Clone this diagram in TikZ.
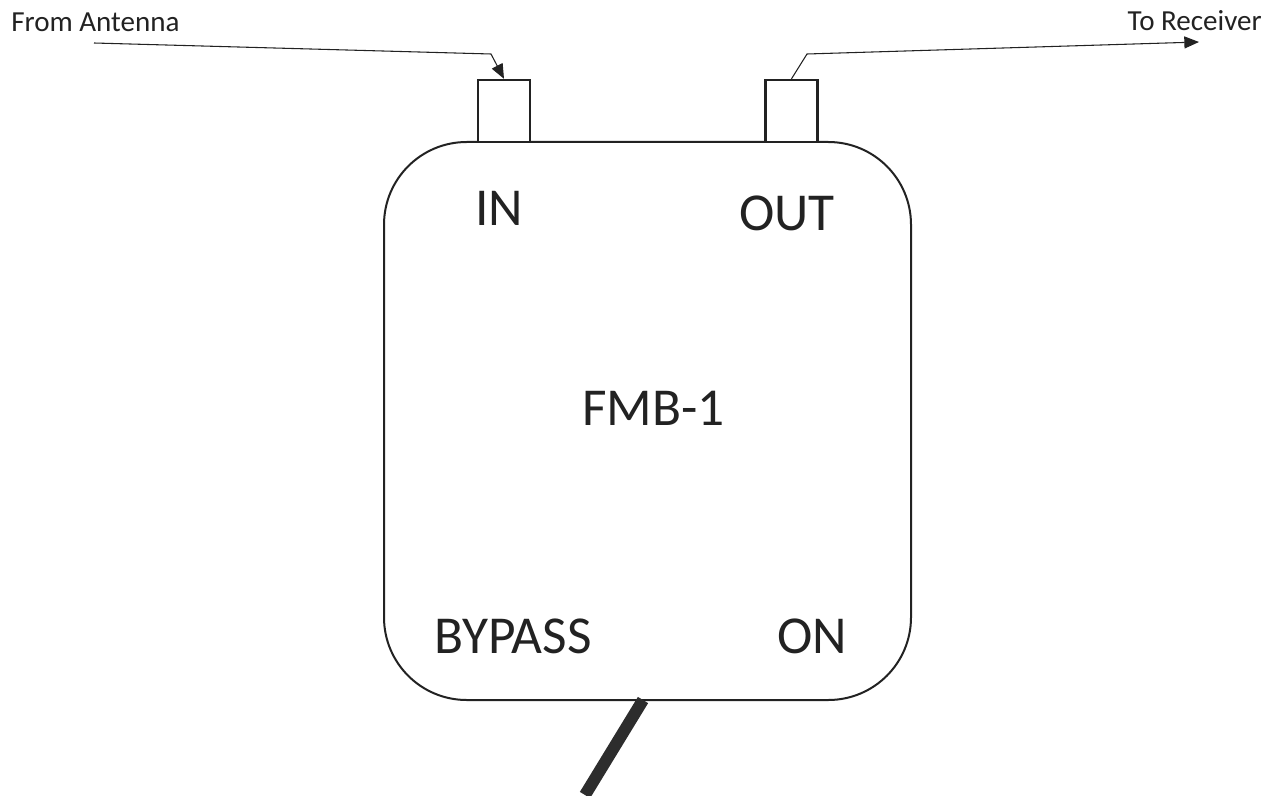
\documentclass[tikz,border=0pt]{standalone}
\usepackage{fontspec}
\setmainfont{Carlito}
\usetikzlibrary{arrows.meta}
\definecolor{ink}{HTML}{222222}
\begin{document}
\begin{tikzpicture}[x=0.75pt,y=-0.75pt,
  every node/.style={text=ink},
  body/.style={draw=ink,line width=1.5pt,rounded corners=62pt,minimum width=395.25pt,minimum height=418.5pt,inner sep=0pt},
  port/.style={draw=ink,line width=1.8pt,minimum width=39pt,minimum height=46.5pt,inner sep=0pt,fill=white},
  big/.style={font=\fontsize{40}{44}\selectfont,anchor=base,inner sep=0pt},
  small/.style={font=\fontsize{21.8}{24}\selectfont,inner sep=0pt},
  arr/.style={draw=ink,line width=0.8pt,-{Triangle[length=11pt,width=9pt]}},
  cable/.style={draw=ink!95,line width=9pt,line cap=butt}]
\useasboundingbox (0,0) rectangle (1276,795);
\node[body] (main) at (647.5,421) {};
\node[port] (inport) at (504,111) {};
\node[port] (outport) at (791.5,111) {};
\node[big] (in) at (499.3,225) {IN};
\node[big] (out) at (787,230) {OUT};
\node[big] (fmb) at (653.3,425) {FMB-1};
\node[big] (bypass) at (513.3,653.5) {BYPASS};
\node[big] (on) at (812,653.5) {ON};
\node[small,anchor=base west] (ant) at (11,31.5) {From Antenna};
\node[small,anchor=base east] (rec) at (1262,31) {To Receiver};
\coordinate (a1) at (94,43);
\coordinate (a2) at (491,54);
\coordinate (b1) at (807,54);
\coordinate (b2) at (1199,42);
\coordinate (c1) at (643,700);
\coordinate (c2) at (585,795);
\draw[arr] (a1) -- (a2) -- (inport.north);
\draw[arr] (outport.north) -- (b1) -- (b2);
\draw[cable] (c1) -- (c2);
\end{tikzpicture}
\end{document}
